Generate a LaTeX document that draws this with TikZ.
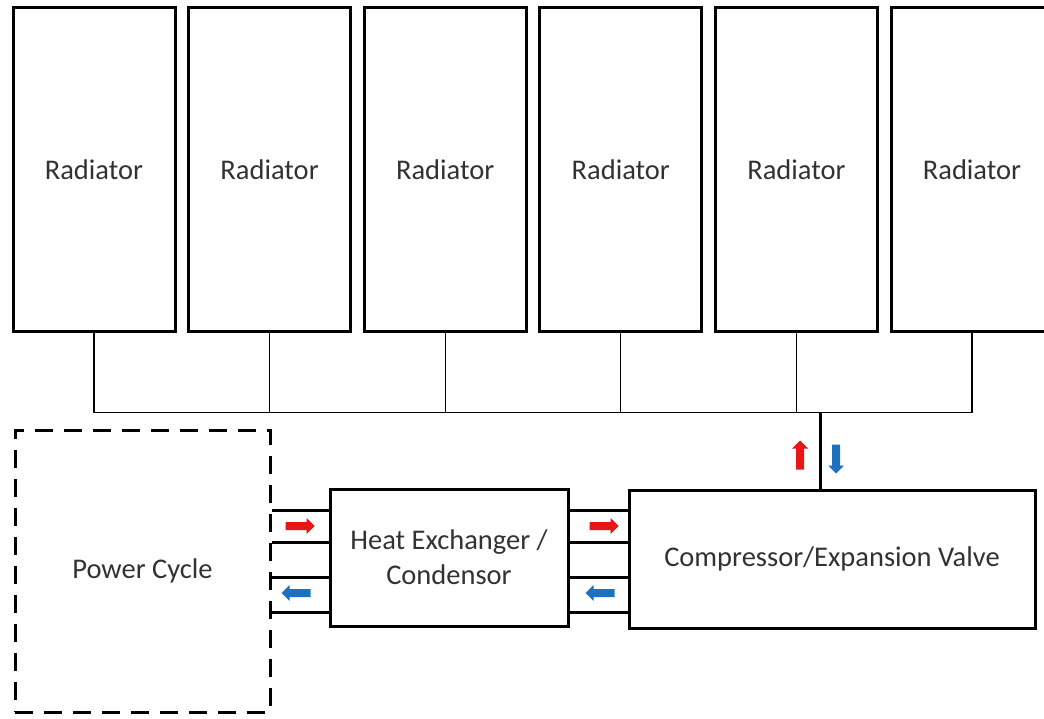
\documentclass[tikz,border=0pt]{standalone}
\usepackage{fontspec}
\setmainfont{Carlito}
\usepackage{tikz}
\usetikzlibrary{positioning,shapes.arrows}
\definecolor{hot}{RGB}{232,22,22}
\definecolor{cold}{RGB}{28,112,190}
\definecolor{ink}{RGB}{50,50,50}

\begin{document}
\begin{tikzpicture}[x=1pt, y=-1pt, every node/.style={font=\fontsize{28.5}{35}\selectfont, text=ink}, box/.style={draw, line width=3pt, inner sep=4pt, align=center}, rad/.style={box, minimum width=162pt, minimum height=323pt}, pipe/.style={line width=3pt}, link/.style={line width=1.3pt}, flow/.style={single arrow, draw=none, inner sep=3.8pt, minimum height=29pt, single arrow head extend=4pt, single arrow head indent=0pt}]
\useasboundingbox (0,0) rectangle (1044,719);
\node[rad] (r1) at (94,169.5) {Radiator};
\node[rad,right=10.6pt of r1] (r2) {Radiator};
\node[rad,right=10.6pt of r2] (r3) {Radiator};
\node[rad,right=10.6pt of r3] (r4) {Radiator};
\node[rad,right=10.6pt of r4] (r5) {Radiator};
\node[rad,right=10.6pt of r5] (r6) {Radiator};
\node[box,dashed,dash pattern=on 18pt off 11pt,minimum width=255pt,minimum height=282pt] (pc) at (142.5,571) {Power Cycle};
\node[box,minimum width=238pt,minimum height=137pt] (hx) at (449,557.5) {Heat Exchanger /\\Condensor};
\node[box,minimum width=406pt,minimum height=138pt] (comp) at (832,559) {Compressor/Expansion Valve};
% header line to the radiators
\coordinate (b1) at ([yshift=-80pt]r1.south);
\coordinate (b6) at ([yshift=-80pt]r6.south);
\draw[link] (r1.south) -- (b1) -- (b6) -- (r6.south);
\foreach \i in {2,...,5} \draw[link] (r\i.south) -- (r\i.south |- b1);
\coordinate (tap) at (b1 -| 820,0);
\draw[pipe] (tap) -- (tap |- comp.north);
% pipes
\foreach \y in {510,542,577,612} {
  \draw[pipe] (pc.east |- 0,\y) -- (hx.west |- 0,\y);
  \draw[pipe] (hx.east |- 0,\y) -- (comp.west |- 0,\y);
}
\node[flow,fill=hot] (f1) at (298,526) {};
\node[flow,fill=cold,shape border rotate=180] (f2) at (298,593) {};
\node[flow,fill=hot] (f3) at (602,526) {};
\node[flow,fill=cold,shape border rotate=180] (f4) at (602,593) {};
\node[flow,fill=hot,shape border rotate=90] (f5) at (800,457) {};
\node[flow,fill=cold,shape border rotate=270] (f6) at (836,457) {};
\end{tikzpicture}
\end{document}
